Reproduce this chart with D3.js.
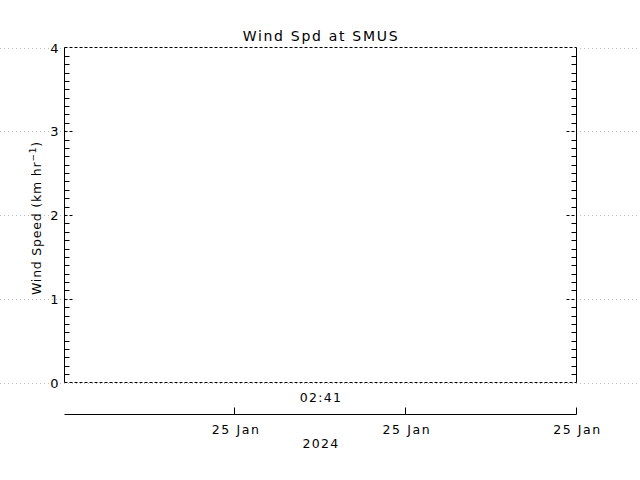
<!DOCTYPE html>
<html><head><meta charset="utf-8">
<script src="https://cdn.jsdelivr.net/npm/d3@7"></script>
<style>body{margin:0;background:#fff}svg{display:block}text{font-family:"DejaVu Sans",sans-serif;fill:#000}</style>
</head><body><svg id="c" width="640" height="480"></svg>
<script>
const title = "Wind Spd at SMUS";
const yLabel = "Wind Speed (km hr";
const yTicks = [0, 1, 2, 3, 4];
const windSpeed = []; // no observations in the window
const xTickValues = [1, 2, 3];
const xTickLabels = ["25 Jan", "25 Jan", "25 Jan"];
const timeLabel = "02:41";
const yearLabel = "2024";

const svg = d3.select("#c");
const L = 64.5, R = 576.5, T = 47.5, B = 382.5;
const y = d3.scaleLinear().domain([0, 4]).range([B, T]);
const x = d3.scaleLinear().domain([0, 3]).range([L, R]);

svg.append("g").selectAll("line").data(yTicks).join("line")
  .attr("x1", 0).attr("x2", 640).attr("y1", d => Math.round(y(d)) + 0.5).attr("y2", d => Math.round(y(d)) + 0.5)
  .attr("stroke", "#bbb").attr("stroke-dasharray", "1,3");

svg.append("rect").attr("x", L).attr("y", T).attr("width", R - L).attr("height", B - T).attr("fill", "#fff");

const minor = d3.range(0, 4.0001, 0.1).filter(v => Math.abs(v - Math.round(v)) > 1e-6);
const yr = v => Math.round(y(v)) + 0.5;
svg.append("g").selectAll("line").data(minor).join("line")
  .attr("x1", L).attr("x2", L + 5).attr("y1", yr).attr("y2", yr).attr("stroke", "#000");
svg.append("g").selectAll("line").data(minor).join("line")
  .attr("x1", R - 5).attr("x2", R).attr("y1", yr).attr("y2", yr).attr("stroke", "#000");
svg.append("g").selectAll("line").data(yTicks.slice(1, -1)).join("line")
  .attr("x1", L).attr("x2", L + 10).attr("y1", yr).attr("y2", yr).attr("stroke", "#000").attr("stroke-dasharray", "3,2");
svg.append("g").selectAll("line").data(yTicks.slice(1, -1)).join("line")
  .attr("x1", R - 10).attr("x2", R).attr("y1", yr).attr("y2", yr).attr("stroke", "#000").attr("stroke-dasharray", "3,2");

svg.append("line").attr("x1", L).attr("x2", L).attr("y1", T).attr("y2", B).attr("stroke", "#000");
svg.append("line").attr("x1", R).attr("x2", R).attr("y1", T).attr("y2", B).attr("stroke", "#000");
svg.append("line").attr("x1", L).attr("x2", R).attr("y1", T).attr("y2", T).attr("stroke", "#000").attr("stroke-dasharray", "3,2");
svg.append("line").attr("x1", L).attr("x2", R).attr("y1", B).attr("y2", B).attr("stroke", "#000").attr("stroke-dasharray", "3,2");

svg.append("path").datum(windSpeed).attr("fill", "none").attr("stroke", "#000")
  .attr("d", d3.line().x(d => x(d[0])).y(d => y(d[1])));

svg.append("g").selectAll("text").data(yTicks).join("text")
  .attr("x", L - 6).attr("y", d => y(d) + 5).attr("text-anchor", "end").attr("font-size", 13).text(d => d);

const yl = svg.append("text").attr("transform", "translate(41,218) rotate(-90)").attr("text-anchor", "middle")
  .attr("font-size", 12.5).attr("letter-spacing", 0.8);
yl.append("tspan").text(yLabel);
yl.append("tspan").attr("dy", -5).attr("font-size", 9).text("−1");
yl.append("tspan").attr("dy", 5).text(")");

svg.append("text").attr("x", 321).attr("y", 41).attr("text-anchor", "middle").attr("font-size", 14)
  .attr("letter-spacing", 1.7).text(title);

svg.append("text").attr("x", 321).attr("y", 402).attr("text-anchor", "middle").attr("font-size", 12.5)
  .attr("letter-spacing", 1.3).text(timeLabel);

const ax = svg.append("g").attr("transform", `translate(0,${414.5})`);
ax.append("line").attr("x1", L).attr("x2", R).attr("stroke", "#000");
ax.selectAll("line.t").data(xTickValues).join("line").attr("class", "t")
  .attr("x1", d => Math.round(x(d)) - 0.5).attr("x2", d => Math.round(x(d)) - 0.5).attr("y1", 0).attr("y2", -7).attr("stroke", "#000");
ax.selectAll("text").data(xTickValues).join("text")
  .attr("x", d => x(d) + 1).attr("y", 19).attr("text-anchor", "middle").attr("font-size", 12.5)
  .attr("letter-spacing", 1.6).text((d, i) => xTickLabels[i]);
svg.append("text").attr("x", 321).attr("y", 448).attr("text-anchor", "middle").attr("font-size", 12.5)
  .attr("letter-spacing", 1.3).text(yearLabel);
</script></body></html>
